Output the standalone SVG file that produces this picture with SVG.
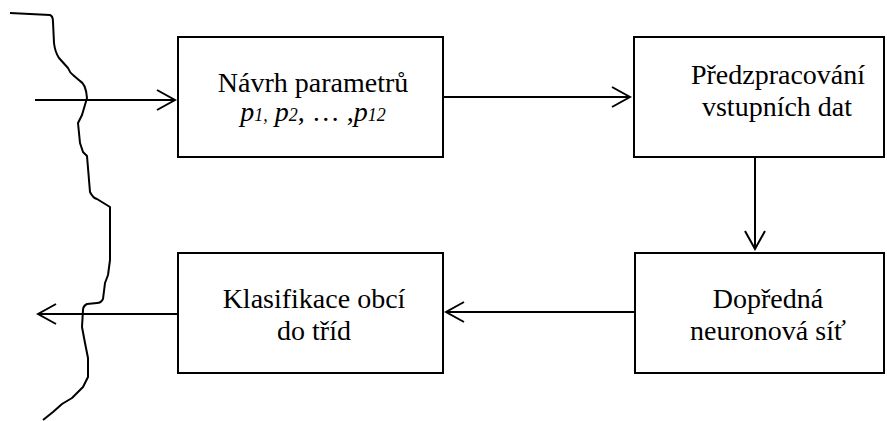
<svg xmlns="http://www.w3.org/2000/svg" width="887" height="421" viewBox="0 0 887 421">
<style>
.box{fill:#fff;stroke:#000;stroke-width:2}
.ln{fill:none;stroke:#000;stroke-width:2}
.t{font-family:"Liberation Serif","Times New Roman",serif;font-size:28px;fill:#000;text-anchor:middle}
.i{font-style:italic}
.s{font-size:18px;font-style:italic}
</style>
<defs>
<marker id="ah" markerUnits="userSpaceOnUse" viewBox="-20 -12 22 24" markerWidth="22" markerHeight="24" refX="0" refY="0" orient="auto">
<path d="M-18,-10 L0,0 L-18,10" fill="none" stroke="#000" stroke-width="2"/>
</marker>
</defs>
<g id="boundary">
<path class="ln" stroke-linejoin="round" d="M10,13 L50,15 Q53,16 53,22 L54,43 Q55,52 59,58 L68,68 Q70,73 73,75 L80,81 Q86,84 87,98 L82,115 L78,123 L80,143 L83,152 L87,156 L90,192 Q93,198 97,199 L110,207 L110,260 L108,275 L105,283 L103,299 Q101,303 97,303 L87,304 Q83,306 83,310 L82,327 L85,343 L88,358 L88,377 L83,387 L72,398 L62,404 L53,412 L43,420"/>
</g>
<g id="connectors">
<line class="ln" x1="35" y1="100" x2="175" y2="100" marker-end="url(#ah)"/>
<line class="ln" x1="443" y1="97" x2="630" y2="97" marker-end="url(#ah)"/>
<line class="ln" x1="755" y1="157" x2="755" y2="249" marker-end="url(#ah)"/>
<line class="ln" x1="635" y1="312" x2="446" y2="312" marker-end="url(#ah)"/>
<line class="ln" x1="178" y1="314" x2="38" y2="314" marker-end="url(#ah)"/>
</g>
<g id="navrh">
<rect class="box" x="178" y="37" width="265" height="120"/>
<text class="t" x="313" y="92">Návrh parametrů</text>
<text class="t" x="313" y="121"><tspan class="i">p</tspan><tspan class="s">1,</tspan> <tspan class="i">p</tspan><tspan class="s">2</tspan>, … ,<tspan class="i">p</tspan><tspan class="s">12</tspan></text>
</g>
<g id="predzpracovani">
<rect class="box" x="634" y="37" width="250" height="120"/>
<text class="t" x="778" y="84">Předzpracování</text>
<text class="t" x="777" y="116">vstupních dat</text>
</g>
<g id="klasifikace">
<rect class="box" x="178" y="253" width="265" height="120"/>
<text class="t" x="314" y="308">Klasifikace obcí</text>
<text class="t" x="314" y="340">do tříd</text>
</g>
<g id="dopredna">
<rect class="box" x="635" y="253" width="249" height="120"/>
<text class="t" x="768" y="308">Dopředná</text>
<text class="t" x="768" y="340">neuronová síť</text>
</g>
</svg>
